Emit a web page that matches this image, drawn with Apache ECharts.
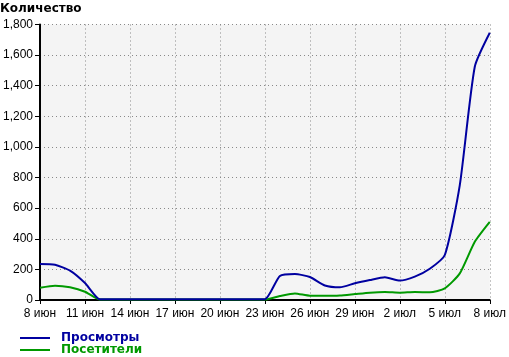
<!DOCTYPE html>
<html>
<head>
<meta charset="utf-8">
<script src="https://cdn.jsdelivr.net/npm/echarts@6/dist/echarts.min.js"></script>
<style>
html,body{margin:0;padding:0;background:#fff;}
#chart{width:509px;height:357px;}
</style>
</head>
<body>
<div id="chart"></div>
<script>
var categories = ["8 июн","9 июн","10 июн","11 июн","12 июн","13 июн","14 июн","15 июн","16 июн","17 июн",
  "18 июн","19 июн","20 июн","21 июн","22 июн","23 июн","24 июн","25 июн","26 июн","27 июн",
  "28 июн","29 июн","30 июн","1 июл","2 июл","3 июл","4 июл","5 июл","6 июл","7 июл","8 июл"];
var views = [235,230,192,111,5,5,5,5,5,5,5,5,5,5,5,5,157,170,150,95,83,109,130,148,127,153,204,294,751,1524,1746];
var visitors = [80,93,83,54,3,3,3,3,3,3,3,3,3,3,3,3,26,43,28,28,30,39,48,52,48,52,50,76,174,381,511];
var yTicks = [0,200,400,600,800,1000,1200,1400,1600,1800];
var titleText = "Количество";
var seriesNames = ["Просмотры","Посетители"];
var seriesColors = ["#0000a0","#009900"];

var chart = echarts.init(document.getElementById('chart'));
var tickFont = {fontFamily:'"Liberation Sans", Arial, sans-serif', fontSize:12, color:'#000'};
chart.setOption({
  animation:false,
  backgroundColor:'#fff',
  title:{text:titleText,left:0,top:3,padding:0,textStyle:{fontFamily:'"DejaVu Sans", sans-serif',fontWeight:'bold',fontSize:12,color:'#000'}},
  grid:{left:40,right:19,top:24.5,bottom:57,show:true,backgroundColor:'#f4f4f4',borderWidth:0,containLabel:false},
  legend:{
    orient:'vertical',left:20,bottom:1,padding:0,itemWidth:30,itemHeight:2,itemGap:0,icon:'rect',
    data:[
      {name:seriesNames[0],textStyle:{color:seriesColors[0]}},
      {name:seriesNames[1],textStyle:{color:seriesColors[1]}}
    ],
    textStyle:{fontFamily:'"DejaVu Sans", sans-serif',fontWeight:'bold',fontSize:12,lineHeight:12,padding:[0,0,0,6]}
  },
  xAxis:{
    type:'category',data:categories,boundaryGap:false,
    axisLine:{lineStyle:{color:'#000',width:2}},
    axisTick:{interval:2,length:4,lineStyle:{color:'#000'}},
    axisLabel:Object.assign({interval:2,margin:8},tickFont),
    splitLine:{show:true,interval:2,lineStyle:{color:'#888',type:[1,3],width:1}}
  },
  yAxis:{
    type:'value',min:yTicks[0],max:yTicks[yTicks.length-1],interval:yTicks[1]-yTicks[0],
    axisLine:{show:true,lineStyle:{color:'#000',width:2}},
    axisTick:{show:true,length:5,lineStyle:{color:'#000'}},
    axisLabel:Object.assign({margin:7,formatter:function(v){return v.toLocaleString('en-US');}},tickFont),
    splitLine:{show:true,lineStyle:{color:'#888',type:[1,3],width:1}}
  },
  series:[
    {name:seriesNames[1],type:'line',data:visitors,smooth:0.2,symbol:'none',z:2,
     lineStyle:{color:seriesColors[1],width:2},itemStyle:{color:seriesColors[1]}},
    {name:seriesNames[0],type:'line',data:views,smooth:0.2,symbol:'none',z:3,
     lineStyle:{color:seriesColors[0],width:2},itemStyle:{color:seriesColors[0]}}
  ]
});
</script>
</body>
</html>
